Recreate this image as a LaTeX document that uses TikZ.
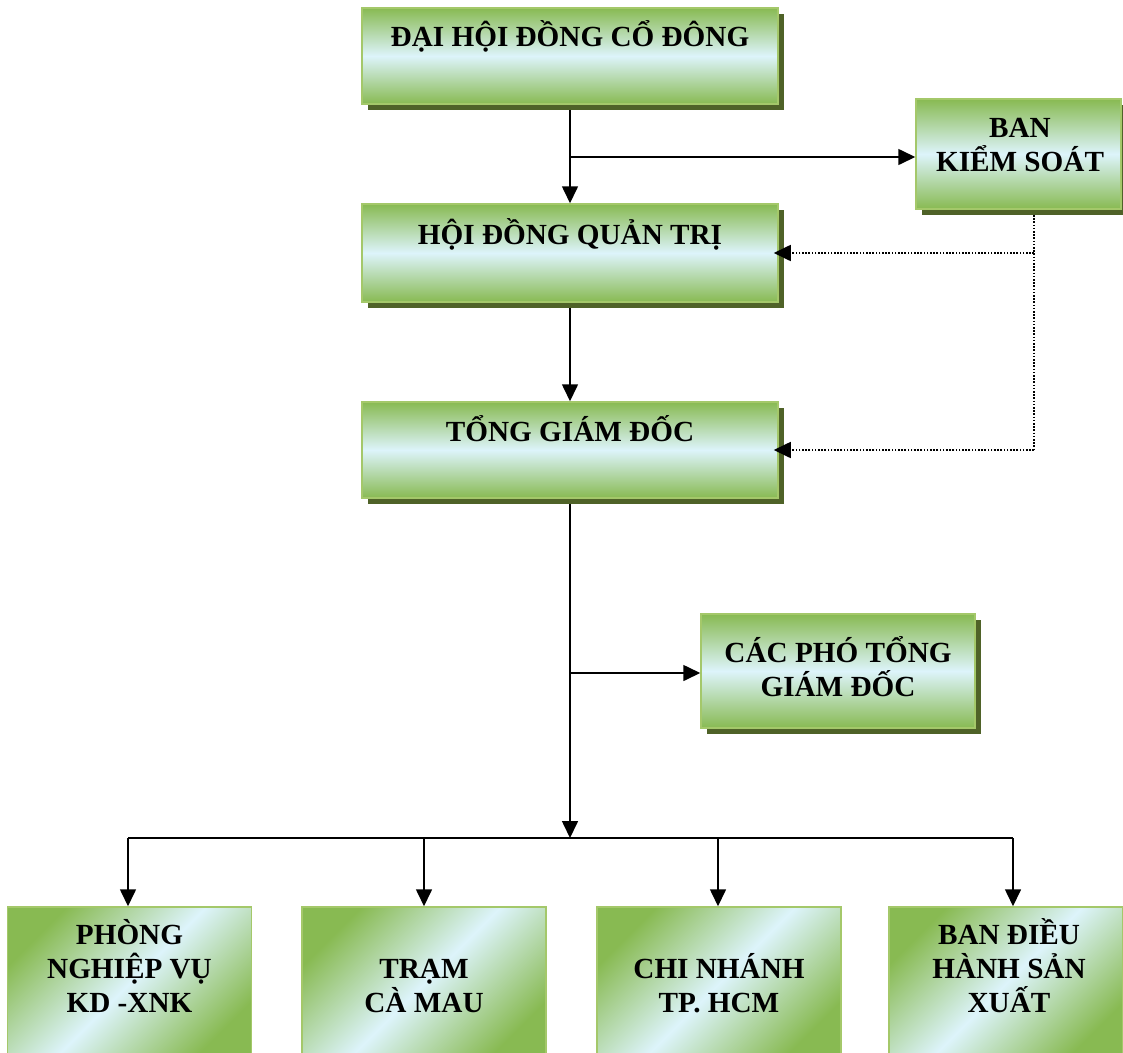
\documentclass[tikz,border=0pt]{standalone}
\usepackage{fontspec}
\setmainfont{Liberation Serif}
\usetikzlibrary{arrows.meta,shadows}
\definecolor{boxgreen}{HTML}{88BA52}
\definecolor{boxcyan}{HTML}{DDF4FB}
\definecolor{boxline}{HTML}{A4C86A}
\definecolor{boxshadow}{HTML}{4F6228}

\begin{document}
\begin{tikzpicture}[x=1pt, y=-1pt,
    font=\fontsize{29.2}{34}\selectfont\bfseries,
    box/.style={draw=boxline, line width=1.5pt, top color=boxgreen, bottom color=boxgreen,
                middle color=boxcyan, inner sep=0pt,
                drop shadow={shadow xshift=6pt, shadow yshift=-6pt, fill=boxshadow, opacity=1}},
    unit/.style={draw=boxline, line width=1.5pt, top color=boxgreen, bottom color=boxgreen,
                middle color=boxcyan, shading angle=45, inner sep=0pt,
                minimum width=244pt, minimum height=153pt},
    txt/.style={inner sep=0pt, align=center},
    ar/.style={-{Triangle[length=17pt,width=16pt]}, line width=1.6pt},
    dotl/.style={line width=1.7pt, dash pattern=on 1.6pt off 1.6pt},
    dotar/.style={ar, line width=1.7pt, dash pattern=on 1.6pt off 1.6pt}]
    \useasboundingbox (0,0) rectangle (1123,1052);

    % upper boxes
    \node[box, minimum width=416pt, minimum height=96pt]  (dhdcd) at (570,56)    {};
    \node[box, minimum width=416pt, minimum height=98pt]  (hdqt)  at (570,253)   {};
    \node[box, minimum width=416pt, minimum height=96pt]  (tgd)   at (570,450)   {};
    \node[box, minimum width=205pt, minimum height=110pt] (bks)   at (1018.5,154) {};
    \node[box, minimum width=274pt, minimum height=114pt] (cptgd) at (838,671)   {};
    \node[txt, anchor=base]  (dhdcd-t) at (570,46)    {ĐẠI HỘI ĐỒNG CỔ ĐÔNG};
    \node[txt, anchor=base]  (hdqt-t)  at (570,244)   {HỘI ĐỒNG QUẢN TRỊ};
    \node[txt, anchor=base]  (tgd-t)   at (570,441)   {TỔNG GIÁM ĐỐC};
    \node[txt, anchor=south] (bks-t)   at (1020,172)  {BAN\\KIỂM SOÁT};
    \node[txt, anchor=south] (cptgd-t) at (838,697)   {CÁC PHÓ TỔNG\\GIÁM ĐỐC};

    % lower boxes
    \node[unit] (pnv)  at (129.5,983.5) {};
    \node[unit] (tcm)  at (424,983.5)   {};
    \node[unit] (cnh)  at (719,983.5)   {};
    \node[unit, minimum width=234pt] (bdh) at (1006,983.5) {};
    \node[txt, anchor=south] (pnv-t) at (129.5,1013) {PHÒNG\\NGHIỆP VỤ\\KD -XNK};
    \node[txt, anchor=south] (tcm-t) at (424,1013)   {TRẠM\\CÀ MAU};
    \node[txt, anchor=south] (cnh-t) at (719,1013)   {CHI NHÁNH\\TP. HCM};
    \node[txt, anchor=south] (bdh-t) at (1009,1013)  {BAN ĐIỀU\\HÀNH SẢN\\XUẤT};

    % connectors
    \coordinate (j1) at (570,157); \coordinate (j2) at (570,673); \coordinate (j3) at (570,838);
    \coordinate (ks) at (1034,215); \coordinate (k1) at (1034,253); \coordinate (k2) at (1034,450);
    \coordinate (b1) at (128,838); \coordinate (b2) at (424,838);
    \coordinate (b3) at (718,838); \coordinate (b4) at (1013,838);
    \draw[ar, shorten <=5pt] (dhdcd.south) -- (hdqt.north); \draw[ar] (j1) -- (j1 -| bks.west);
    \draw[ar, shorten <=5pt] (hdqt.south) -- (tgd.north);
    \draw[dotl] (ks) -- (k2);
    \draw[dotar, shorten >=-5pt] (k1) -- (k1 -| hdqt.east); \draw[dotar, shorten >=-5pt] (k2) -- (k2 -| tgd.east);
    \draw[ar, shorten <=5pt] (tgd.south) -- (j3); \draw[ar] (j2) -- (j2 -| cptgd.west);
    \draw[line width=1.6pt] (b1) -- (b4);
    \draw[ar] (b1) -- (b1 |- pnv.north); \draw[ar] (b2) -- (b2 |- tcm.north);
    \draw[ar] (b3) -- (b3 |- cnh.north); \draw[ar] (b4) -- (b4 |- bdh.north);
\end{tikzpicture}
\end{document}
